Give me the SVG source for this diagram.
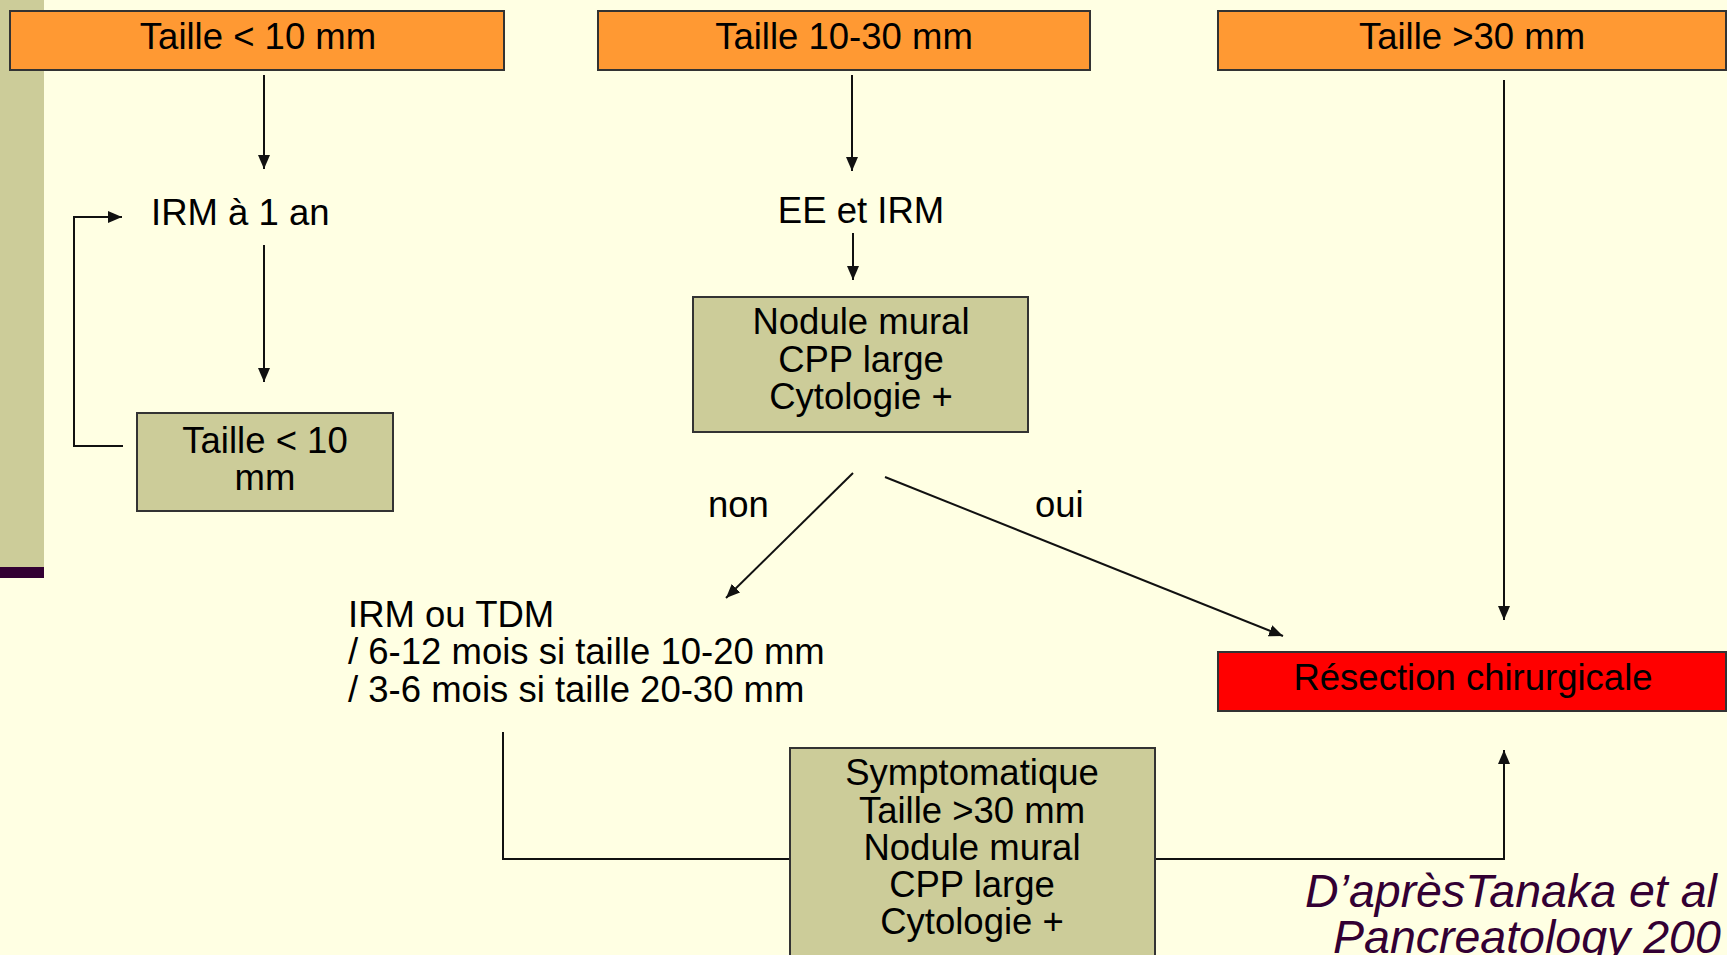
<svg xmlns="http://www.w3.org/2000/svg" width="1727" height="955" viewBox="0 0 1727 955">
<style>
.t{font-family:"Liberation Sans",Arial,sans-serif;font-size:36.5px;fill:#000}
.c{text-anchor:middle}
.or{fill:#FF9933;stroke:#333;stroke-width:2}
.ol{fill:#CCCC99;stroke:#333;stroke-width:2}
.rd{fill:#FF0000;stroke:#333;stroke-width:2}
.ln{fill:none;stroke:#111;stroke-width:2}
.cite{font-family:"Liberation Sans",Arial,sans-serif;font-size:46.5px;font-style:italic;fill:#330033}
</style>
<defs>
<marker id="ah" viewBox="0 0 14 12" refX="14" refY="6" markerWidth="14" markerHeight="12" markerUnits="userSpaceOnUse" orient="auto">
<path d="M0,0 L14,6 L0,12 z" fill="#111"/>
</marker>
</defs>
<rect x="0" y="0" width="1727" height="955" fill="#FFFFE3"/>
<rect x="0" y="0" width="44" height="567" fill="#CCCC99"/>
<rect x="0" y="567" width="44" height="11" fill="#330033"/>

<g id="connectors">
<line class="ln" x1="264" y1="75" x2="264" y2="169" marker-end="url(#ah)"/>
<line class="ln" x1="264" y1="245" x2="264" y2="382" marker-end="url(#ah)"/>
<polyline class="ln" points="123,446 74,446 74,217 122,217" marker-end="url(#ah)"/>
<line class="ln" x1="852" y1="75" x2="852" y2="171" marker-end="url(#ah)"/>
<line class="ln" x1="853" y1="233" x2="853" y2="280" marker-end="url(#ah)"/>
<line class="ln" x1="853" y1="473" x2="726" y2="598" marker-end="url(#ah)"/>
<line class="ln" x1="885" y1="477" x2="1283" y2="636" marker-end="url(#ah)"/>
<line class="ln" x1="1504" y1="80" x2="1504" y2="620" marker-end="url(#ah)"/>
<polyline class="ln" points="503,732 503,859 790,859"/>
<polyline class="ln" points="1155,859 1504,859 1504,750" marker-end="url(#ah)"/>
<text class="t" x="708" y="517">non</text>
<text class="t" x="1035" y="517">oui</text>
</g>

<g id="n1">
<rect class="or" x="10" y="11" width="494" height="59"/>
<text class="t c" x="258" y="49">Taille &lt; 10 mm</text>
</g>
<g id="n2">
<rect class="or" x="598" y="11" width="492" height="59"/>
<text class="t c" x="844" y="49">Taille 10-30 mm</text>
</g>
<g id="n3">
<rect class="or" x="1218" y="11" width="508" height="59"/>
<text class="t c" x="1472" y="49">Taille &gt;30 mm</text>
</g>
<g id="n4">
<text class="t" x="151" y="225">IRM à 1 an</text>
</g>
<g id="n5">
<rect class="ol" x="137" y="413" width="256" height="98"/>
<text class="t c" x="265" y="453">Taille &lt; 10</text>
<text class="t c" x="265" y="490">mm</text>
</g>
<g id="n6">
<text class="t c" x="861" y="223">EE et IRM</text>
</g>
<g id="n7">
<rect class="ol" x="693" y="297" width="335" height="135"/>
<text class="t c" x="861" y="334">Nodule mural</text>
<text class="t c" x="861" y="372">CPP large</text>
<text class="t c" x="861" y="409">Cytologie +</text>
</g>
<g id="n8">
<text class="t" x="348" y="627">IRM ou TDM</text>
<text class="t" x="348" y="664">/ 6-12 mois si taille 10-20 mm</text>
<text class="t" x="348" y="702">/ 3-6 mois si taille 20-30 mm</text>
</g>
<g id="n9">
<rect class="rd" x="1218" y="652" width="508" height="59"/>
<text class="t c" x="1473" y="690">Résection chirurgicale</text>
</g>
<g id="n10">
<rect class="ol" x="790" y="748" width="365" height="215"/>
<text class="t c" x="972" y="785">Symptomatique</text>
<text class="t c" x="972" y="823">Taille &gt;30 mm</text>
<text class="t c" x="972" y="860">Nodule mural</text>
<text class="t c" x="972" y="897">CPP large</text>
<text class="t c" x="972" y="934">Cytologie +</text>
</g>
<g id="citation">
<text class="cite" x="1305" y="907">D’aprèsTanaka et al</text>
<text class="cite" x="1333" y="953">Pancreatology 200</text>
</g>
</svg>
